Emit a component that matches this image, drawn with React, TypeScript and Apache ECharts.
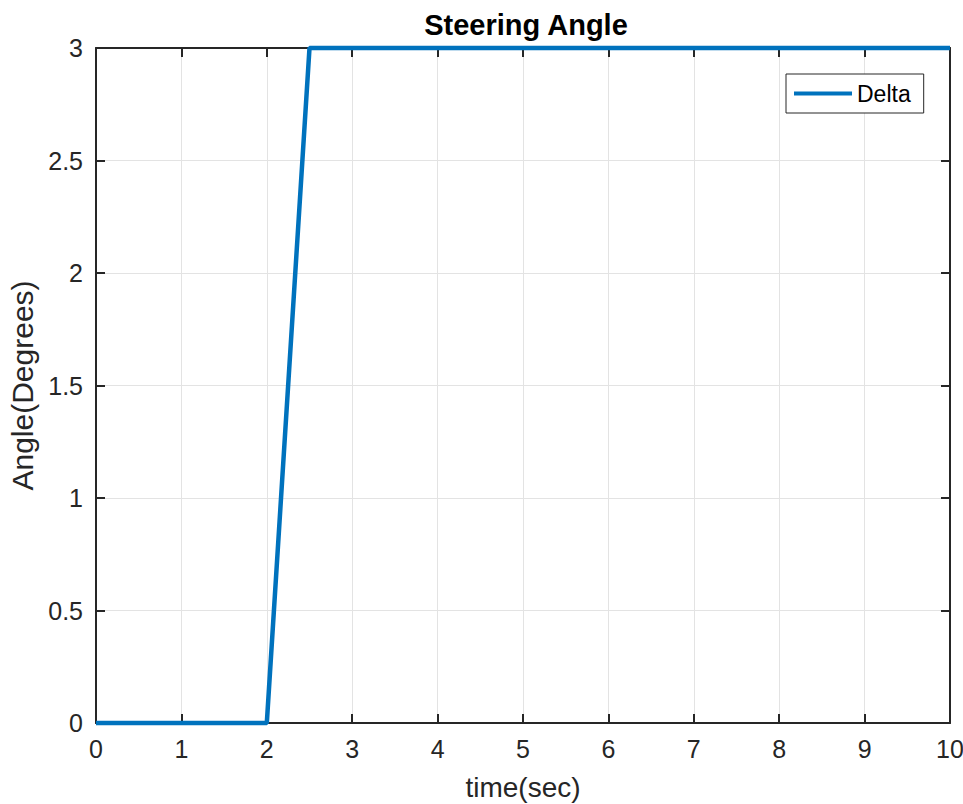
import React, { useEffect, useRef } from "react";
import * as echarts from "echarts";

const timeValues = [0, 2, 2.5, 10];
const deltaValues = [0, 0, 3, 3];
const seriesName = "Delta";
const titleText = "Steering Angle";
const xLabel = "time(sec)";
const yLabel = "Angle(Degrees)";

export default function App() {
  const ref = useRef<HTMLDivElement>(null);
  useEffect(() => {
    if (!ref.current) return;
    const chart = echarts.init(ref.current, null, { renderer: "svg" });
    const font = "Liberation Sans, Arial, Helvetica, sans-serif";
    const axisColor = "#262626";
    const data = timeValues.map((t, i) => [t, deltaValues[i]]);
    const axisLine = () => ({ show: true, onZero: false, lineStyle: { color: axisColor, width: 2 } });
    const tick = () => ({ show: true, inside: true, length: 9, lineStyle: { color: axisColor, width: 2 } });
    chart.setOption({
      animation: false,
      backgroundColor: "#ffffff",
      title: {
        text: titleText,
        left: 521,
        top: 5,
        textAlign: "center",
        textStyle: { fontFamily: font, fontSize: 29, fontWeight: "bold", color: "#000" },
      },
      legend: {
        data: [{ name: seriesName, icon: "rect" }],
        left: 786,
        top: 74,
        orient: "vertical",
        backgroundColor: "#fff",
        borderColor: axisColor,
        borderWidth: 1,
        padding: [8, 13, 8, 8],
        itemWidth: 58,
        itemHeight: 4,
        itemGap: 6,
        textStyle: { fontFamily: font, fontSize: 23, color: "#000" },
      },
      grid: { left: 96, right: 13, top: 48, bottom: 81, containLabel: false, outerBoundsMode: "none" },
      xAxis: [
        {
          type: "value",
          position: "bottom",
          min: 0,
          max: 10,
          interval: 1,
          name: xLabel,
          nameLocation: "middle",
          nameGap: 50,
          nameTextStyle: { fontFamily: font, fontSize: 28, color: axisColor },
          axisLine: axisLine(),
          axisTick: tick(),
          axisLabel: { fontFamily: font, fontSize: 25, color: axisColor, margin: 13 },
          splitLine: { show: true, lineStyle: { color: "#e3e3e3", width: 1 } },
        },
        {
          type: "value",
          position: "top",
          min: 0,
          max: 10,
          interval: 1,
          axisLine: axisLine(),
          axisTick: tick(),
          axisLabel: { show: false },
          splitLine: { show: false },
        },
      ],
      yAxis: [
        {
          type: "value",
          position: "left",
          min: 0,
          max: 3,
          interval: 0.5,
          name: yLabel,
          nameLocation: "middle",
          nameGap: 57,
          nameTextStyle: { fontFamily: font, fontSize: 30, color: axisColor },
          axisLine: axisLine(),
          axisTick: tick(),
          axisLabel: { fontFamily: font, fontSize: 25, color: axisColor, margin: 13 },
          splitLine: { show: true, lineStyle: { color: "#e3e3e3", width: 1 } },
        },
        {
          type: "value",
          position: "right",
          min: 0,
          max: 3,
          interval: 0.5,
          axisLine: axisLine(),
          axisTick: tick(),
          axisLabel: { show: false },
          splitLine: { show: false },
        },
      ],
      series: [
        {
          name: seriesName,
          type: "line",
          xAxisIndex: 0,
          yAxisIndex: 0,
          data,
          showSymbol: false,
          symbol: "none",
          clip: false,
          lineStyle: { color: "#0072BD", width: 4.5 },
          itemStyle: { color: "#0072BD" },
        },
      ],
    });
    return () => chart.dispose();
  }, []);
  return <div ref={ref} style={{ width: 963, height: 804, position: "absolute", left: 0, top: 0 }} />;
}
